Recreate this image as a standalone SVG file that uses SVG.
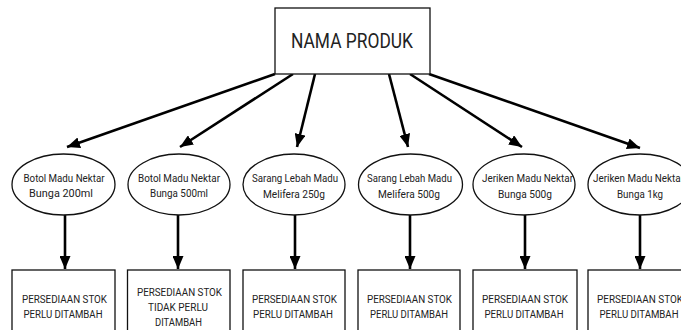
<svg xmlns="http://www.w3.org/2000/svg" width="681" height="330" viewBox="0 0 681 330">
  <defs>
    <marker id="arrowhead" markerUnits="userSpaceOnUse" markerWidth="13" markerHeight="11" refX="13" refY="5.5" orient="auto">
      <path d="M0,0 L13,5.5 L0,11 Z" fill="#000"/>
    </marker>
    <style>
      .box { fill: #fff; stroke: #111; stroke-width: 1.3; }
      .oval { fill: #fff; stroke: #111; stroke-width: 1.3; }
      .edge { stroke: #000; stroke-width: 2.6; fill: none; marker-end: url(#arrowhead); }
      text { font-family: Roboto, "Liberation Sans", sans-serif; fill: #222; text-anchor: middle; }
      .title { font-size: 20px; }
      .lbl { font-size: 11px; }
    </style>
  </defs>
  <rect width="681" height="330" fill="#fff"/>

  <!-- connectors -->
  <g id="connectors">
    <line class="edge" x1="275" y1="74" x2="67" y2="147"/>
    <line class="edge" x1="293" y1="74" x2="180" y2="147"/>
    <line class="edge" x1="315" y1="74" x2="297" y2="147"/>
    <line class="edge" x1="389" y1="74" x2="408" y2="147"/>
    <line class="edge" x1="410" y1="74" x2="522" y2="147"/>
    <line class="edge" x1="429" y1="74" x2="640" y2="148"/>

    <line class="edge" x1="65" y1="215" x2="65" y2="269"/>
    <line class="edge" x1="178" y1="215" x2="178" y2="269"/>
    <line class="edge" x1="295" y1="215" x2="295" y2="269"/>
    <line class="edge" x1="410" y1="215" x2="410" y2="269"/>
    <line class="edge" x1="525" y1="215" x2="525" y2="269"/>
    <line class="edge" x1="640" y1="215" x2="640" y2="269"/>
  </g>

  <!-- root -->
  <g id="nama-produk">
    <rect class="box" x="275" y="8" width="155" height="66"/>
    <text class="title" x="352" y="48" textLength="122" lengthAdjust="spacingAndGlyphs">NAMA PRODUK</text>
  </g>

  <!-- products -->
  <g id="produk-1">
    <ellipse class="oval" cx="63.5" cy="184.5" rx="51.5" ry="30.5"/>
    <text class="lbl" x="64" y="182" textLength="81" lengthAdjust="spacingAndGlyphs">Botol Madu Nektar</text>
    <text class="lbl" x="61" y="197" textLength="64" lengthAdjust="spacingAndGlyphs">Bunga 200ml</text>
  </g>
  <g id="produk-2">
    <ellipse class="oval" cx="179" cy="184.5" rx="51" ry="30.5"/>
    <text class="lbl" x="179" y="182" textLength="82" lengthAdjust="spacingAndGlyphs">Botol Madu Nektar</text>
    <text class="lbl" x="179" y="197" textLength="58" lengthAdjust="spacingAndGlyphs">Bunga 500ml</text>
  </g>
  <g id="produk-3">
    <ellipse class="oval" cx="294" cy="184.5" rx="51" ry="30.5"/>
    <text class="lbl" x="295" y="182" textLength="86" lengthAdjust="spacingAndGlyphs">Sarang Lebah Madu</text>
    <text class="lbl" x="294" y="198" textLength="62" lengthAdjust="spacingAndGlyphs">Melifera 250g</text>
  </g>
  <g id="produk-4">
    <ellipse class="oval" cx="410.5" cy="184.5" rx="52" ry="30.5"/>
    <text class="lbl" x="409.5" y="182" textLength="85" lengthAdjust="spacingAndGlyphs">Sarang Lebah Madu</text>
    <text class="lbl" x="409" y="198" textLength="62" lengthAdjust="spacingAndGlyphs">Melifera 500g</text>
  </g>
  <g id="produk-5">
    <ellipse class="oval" cx="524" cy="184.5" rx="51" ry="30.5"/>
    <text class="lbl" x="527.5" y="182" textLength="91" lengthAdjust="spacingAndGlyphs">Jeriken Madu Nektar</text>
    <text class="lbl" x="525" y="198" textLength="54" lengthAdjust="spacingAndGlyphs">Bunga 500g</text>
  </g>
  <g id="produk-6">
    <ellipse class="oval" cx="640" cy="184.5" rx="52" ry="30.5"/>
    <text class="lbl" x="638.5" y="182" textLength="91" lengthAdjust="spacingAndGlyphs">Jeriken Madu Nektar</text>
    <text class="lbl" x="640" y="198" textLength="46" lengthAdjust="spacingAndGlyphs">Bunga 1kg</text>
  </g>

  <!-- stock status -->
  <g id="stok-1">
    <rect class="box" x="12" y="270" width="103" height="70"/>
    <text class="lbl" x="64.5" y="303" textLength="85" lengthAdjust="spacingAndGlyphs">PERSEDIAAN STOK</text>
    <text class="lbl" x="63" y="317.5" textLength="79" lengthAdjust="spacingAndGlyphs">PERLU DITAMBAH</text>
  </g>
  <g id="stok-2">
    <rect class="box" x="127.5" y="270" width="102.5" height="70"/>
    <text class="lbl" x="179.5" y="295.5" textLength="85" lengthAdjust="spacingAndGlyphs">PERSEDIAAN STOK</text>
    <text class="lbl" x="178" y="310.5" textLength="60" lengthAdjust="spacingAndGlyphs">TIDAK PERLU</text>
    <text class="lbl" x="178.5" y="325.5" textLength="47" lengthAdjust="spacingAndGlyphs">DITAMBAH</text>
  </g>
  <g id="stok-3">
    <rect class="box" x="243" y="270" width="102" height="70"/>
    <text class="lbl" x="294.5" y="303" textLength="85" lengthAdjust="spacingAndGlyphs">PERSEDIAAN STOK</text>
    <text class="lbl" x="293" y="317.5" textLength="80" lengthAdjust="spacingAndGlyphs">PERLU DITAMBAH</text>
  </g>
  <g id="stok-4">
    <rect class="box" x="358" y="270" width="102" height="70"/>
    <text class="lbl" x="409.5" y="303" textLength="85" lengthAdjust="spacingAndGlyphs">PERSEDIAAN STOK</text>
    <text class="lbl" x="409" y="317.5" textLength="78" lengthAdjust="spacingAndGlyphs">PERLU DITAMBAH</text>
  </g>
  <g id="stok-5">
    <rect class="box" x="473" y="270" width="104" height="70"/>
    <text class="lbl" x="525" y="303" textLength="86" lengthAdjust="spacingAndGlyphs">PERSEDIAAN STOK</text>
    <text class="lbl" x="524" y="317.5" textLength="79" lengthAdjust="spacingAndGlyphs">PERLU DITAMBAH</text>
  </g>
  <g id="stok-6">
    <rect class="box" x="588" y="270" width="104" height="70"/>
    <text class="lbl" x="640" y="303" textLength="86" lengthAdjust="spacingAndGlyphs">PERSEDIAAN STOK</text>
    <text class="lbl" x="639" y="317.5" textLength="79" lengthAdjust="spacingAndGlyphs">PERLU DITAMBAH</text>
  </g>
</svg>
